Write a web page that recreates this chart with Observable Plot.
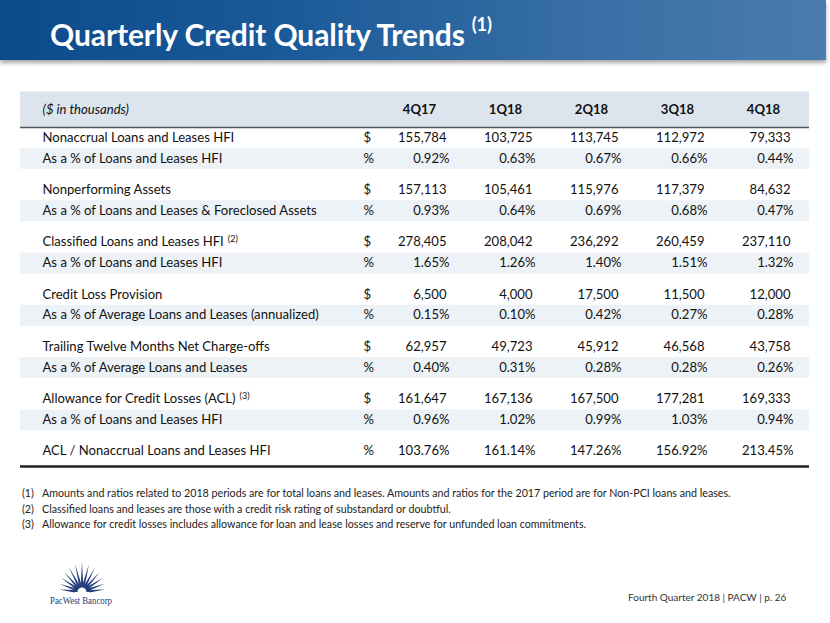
<!DOCTYPE html>
<html><head><meta charset="utf-8">
<script src="https://cdn.jsdelivr.net/npm/d3@7"></script>
<script src="https://cdn.jsdelivr.net/npm/@observablehq/plot@0.6"></script>
<style>
html,body{margin:0;padding:0;background:#fff;}
body{width:830px;height:623px;position:relative;overflow:hidden;font-family:Lato,"Open Sans",sans-serif;}
#banner{position:absolute;left:0;top:0;width:826px;height:60px;background:linear-gradient(90deg,#0c4a8c 0%,#1b5a99 35%,#3b71a6 75%,#4a7cae 100%);box-shadow:0 3px 4px rgba(0,0,0,0.35);}
#title{position:absolute;left:50px;top:16px;color:#fff;font-weight:700;font-size:30px;letter-spacing:-0.1px;white-space:nowrap;}
#title sup{font-size:18px;font-weight:700;vertical-align:top;position:relative;top:-3px;margin-left:7px;}
#table{position:absolute;left:0;top:80px;}
#notes{position:absolute;left:22px;top:485px;font-size:10.7px;color:#222;line-height:15.5px;white-space:nowrap;}
#notes .n{display:inline-block;width:20px;}
#footer{position:absolute;left:628px;top:591px;font-size:10px;color:#333;white-space:nowrap;}
#logo{position:absolute;left:44px;top:556px;}
</style></head><body>
<div id="banner"></div>
<div id="title"></div>
<div id="table"></div>
<div id="notes"></div>
<div id="footer"></div>
<div id="logo"></div>
<script>
const titleText = "Quarterly Credit Quality Trends";
const titleNote = "(1)";
const quarters = ["4Q17", "1Q18", "2Q18", "3Q18", "4Q18"];
const unitHeader = "($ in thousands)";
const metricLabels = [
  "Nonaccrual Loans and Leases HFI",
  "Nonperforming Assets",
  "Classified Loans and Leases HFI",
  "Credit Loss Provision",
  "Trailing Twelve Months Net Charge-offs",
  "Allowance for Credit Losses (ACL)"
];
const metricNotes = ["", "", "(2)", "", "", "(3)"];
const metricValues = [
  [155784, 103725, 113745, 112972, 79333],
  [157113, 105461, 115976, 117379, 84632],
  [278405, 208042, 236292, 260459, 237110],
  [6500, 4000, 17500, 11500, 12000],
  [62957, 49723, 45912, 46568, 43758],
  [161647, 167136, 167500, 177281, 169333]
];
const ratioLabels = [
  "As a % of Loans and Leases HFI",
  "As a % of Loans and Leases & Foreclosed Assets",
  "As a % of Loans and Leases HFI",
  "As a % of Average Loans and Leases (annualized)",
  "As a % of Average Loans and Leases",
  "As a % of Loans and Leases HFI"
];
const ratioValues = [
  [0.92, 0.63, 0.67, 0.66, 0.44],
  [0.93, 0.64, 0.69, 0.68, 0.47],
  [1.65, 1.26, 1.40, 1.51, 1.32],
  [0.15, 0.10, 0.42, 0.27, 0.28],
  [0.40, 0.31, 0.28, 0.28, 0.26],
  [0.96, 1.02, 0.99, 1.03, 0.94]
];
const coverageLabel = "ACL / Nonaccrual Loans and Leases HFI";
const coverageValues = [103.76, 161.14, 147.26, 156.92, 213.45];
const footnotes = [
  ["(1)", "Amounts and ratios related to 2018 periods are for total loans and leases. Amounts and ratios for the 2017 period are for Non-PCI loans and leases."],
  ["(2)", "Classified loans and leases are those with a credit risk rating of substandard or doubtful."],
  ["(3)", "Allowance for credit losses includes allowance for loan and lease losses and reserve for unfunded loan commitments."]
];
const footerText = "Fourth Quarter 2018 | PACW | p. 26";
const logoText = "PacWest Bancorp";

// ---- title, notes, footer
const t = document.getElementById("title");
t.textContent = titleText;
const sup = document.createElement("sup"); sup.textContent = titleNote; t.appendChild(sup);
const notesEl = document.getElementById("notes");
footnotes.forEach(([n, s]) => {
  const div = document.createElement("div");
  div.innerHTML = `<span class="n"></span><span class="s"></span>`;
  div.querySelector(".n").textContent = n;
  div.querySelector(".s").textContent = s;
  notesEl.appendChild(div);
});
document.getElementById("footer").textContent = footerText;

// ---- table rows
const fmtD = d3.format(",");
const fmtP = v => d3.format(".2f")(v) + "%";
const rows = [];
metricLabels.forEach((label, g) => {
  rows.push({slot: g * 5, label, note: metricNotes[g], unit: "$", values: metricValues[g].map(fmtD)});
  rows.push({slot: g * 5 + 2, label: ratioLabels[g], note: "", unit: "%", shade: true, values: ratioValues[g].map(fmtP)});
});
rows.push({slot: 30, label: coverageLabel, note: "", unit: "%", values: coverageValues.map(fmtP)});
const cells = rows.flatMap(r => quarters.map((q, i) => ({slot: r.slot, q, text: r.values[i], unit: r.unit})));

const HEADER = -2.68, HEADER_LINE = -0.96, BOTTOM_LINE = 31.45;
const step = 400 / 38.25;

const svg = Plot.plot({
  width: 830, height: 400,
  marginLeft: 20, marginRight: 21, marginTop: 0, marginBottom: 0,
  style: {fontFamily: "Lato, 'Open Sans', sans-serif", fontSize: "13.1px", color: "#111", background: "transparent"},
  x: {type: "point", domain: ["unit", ...quarters], range: [362, 793], padding: 0, axis: null},
  y: {domain: [-5.45, 32.8], range: [0, 400], axis: null},
  marks: [
    Plot.ruleY([HEADER], {stroke: "#dce5ee", strokeWidth: 36}),
    Plot.ruleY(rows.filter(r => r.shade), {y: "slot", stroke: "#edf2f7", strokeWidth: 2 * step}),
    Plot.ruleY([HEADER_LINE], {stroke: "#555", strokeWidth: 1.5}),
    Plot.ruleY([BOTTOM_LINE], {stroke: "#222", strokeWidth: 2.5}),
    Plot.text([unitHeader], {y: () => HEADER, frameAnchor: "left", dx: 22, textAnchor: "start", fontStyle: "italic", fill: "#111"}),
    Plot.text(quarters, {x: d => d, y: () => HEADER, dx: -30, fontWeight: "bold", fill: "#111"}),
    Plot.text(rows, {y: "slot", text: "label", frameAnchor: "left", dx: 22, textAnchor: "start", fill: "#111"}),
    Plot.text(rows, {x: () => "unit", y: "slot", text: "unit", textAnchor: "start", fill: "#111"}),
    Plot.text(cells.filter(c => c.unit === "$"), {x: "q", y: "slot", text: "text", textAnchor: "end", dx: -3, fill: "#111"}),
    Plot.text(cells.filter(c => c.unit === "%"), {x: "q", y: "slot", text: "text", textAnchor: "end", fill: "#111"})
  ]
});
const noteByLabel = new Map(rows.filter(r => r.note).map(r => [r.label, r.note]));
d3.select(svg).selectAll("text").filter(function() { return noteByLabel.has(this.textContent); })
  .each(function() {
    const n = noteByLabel.get(this.textContent);
    d3.select(this).append("tspan").attr("font-size", "9px").attr("dy", "-0.45em").attr("dx", "4").text(n);
  });
document.getElementById("table").appendChild(svg);

// ---- logo
const rays = d3.range(-84, 85, 14);
const lg = d3.select("#logo").append("svg").attr("width", 110).attr("height", 56);
const g = lg.append("g").attr("transform", "translate(38,36)").attr("fill", "#223d7a");
rays.forEach(a => {
  const len = 30 - Math.abs(a) / 84 * 7;
  const r = a * Math.PI / 180;
  const w = 0.16;
  const p = [[Math.sin(r - w) * 7.5, -Math.cos(r - w) * 7.5], [Math.sin(r) * len, -Math.cos(r) * len], [Math.sin(r + w) * 7.5, -Math.cos(r + w) * 7.5]];
  g.append("path").attr("d", "M" + p.join("L") + "Z");
});
g.append("path").attr("d", d3.arc()({innerRadius: 4.5, outerRadius: 8, startAngle: -Math.PI / 2, endAngle: Math.PI / 2}));
lg.append("text").attr("x", 6).attr("y", 48).attr("font-family", "'Liberation Serif', serif").attr("font-size", 10.5)
  .attr("textLength", 62).attr("lengthAdjust", "spacingAndGlyphs").attr("fill", "#223d7a").text(logoText);
</script>
</body></html>
